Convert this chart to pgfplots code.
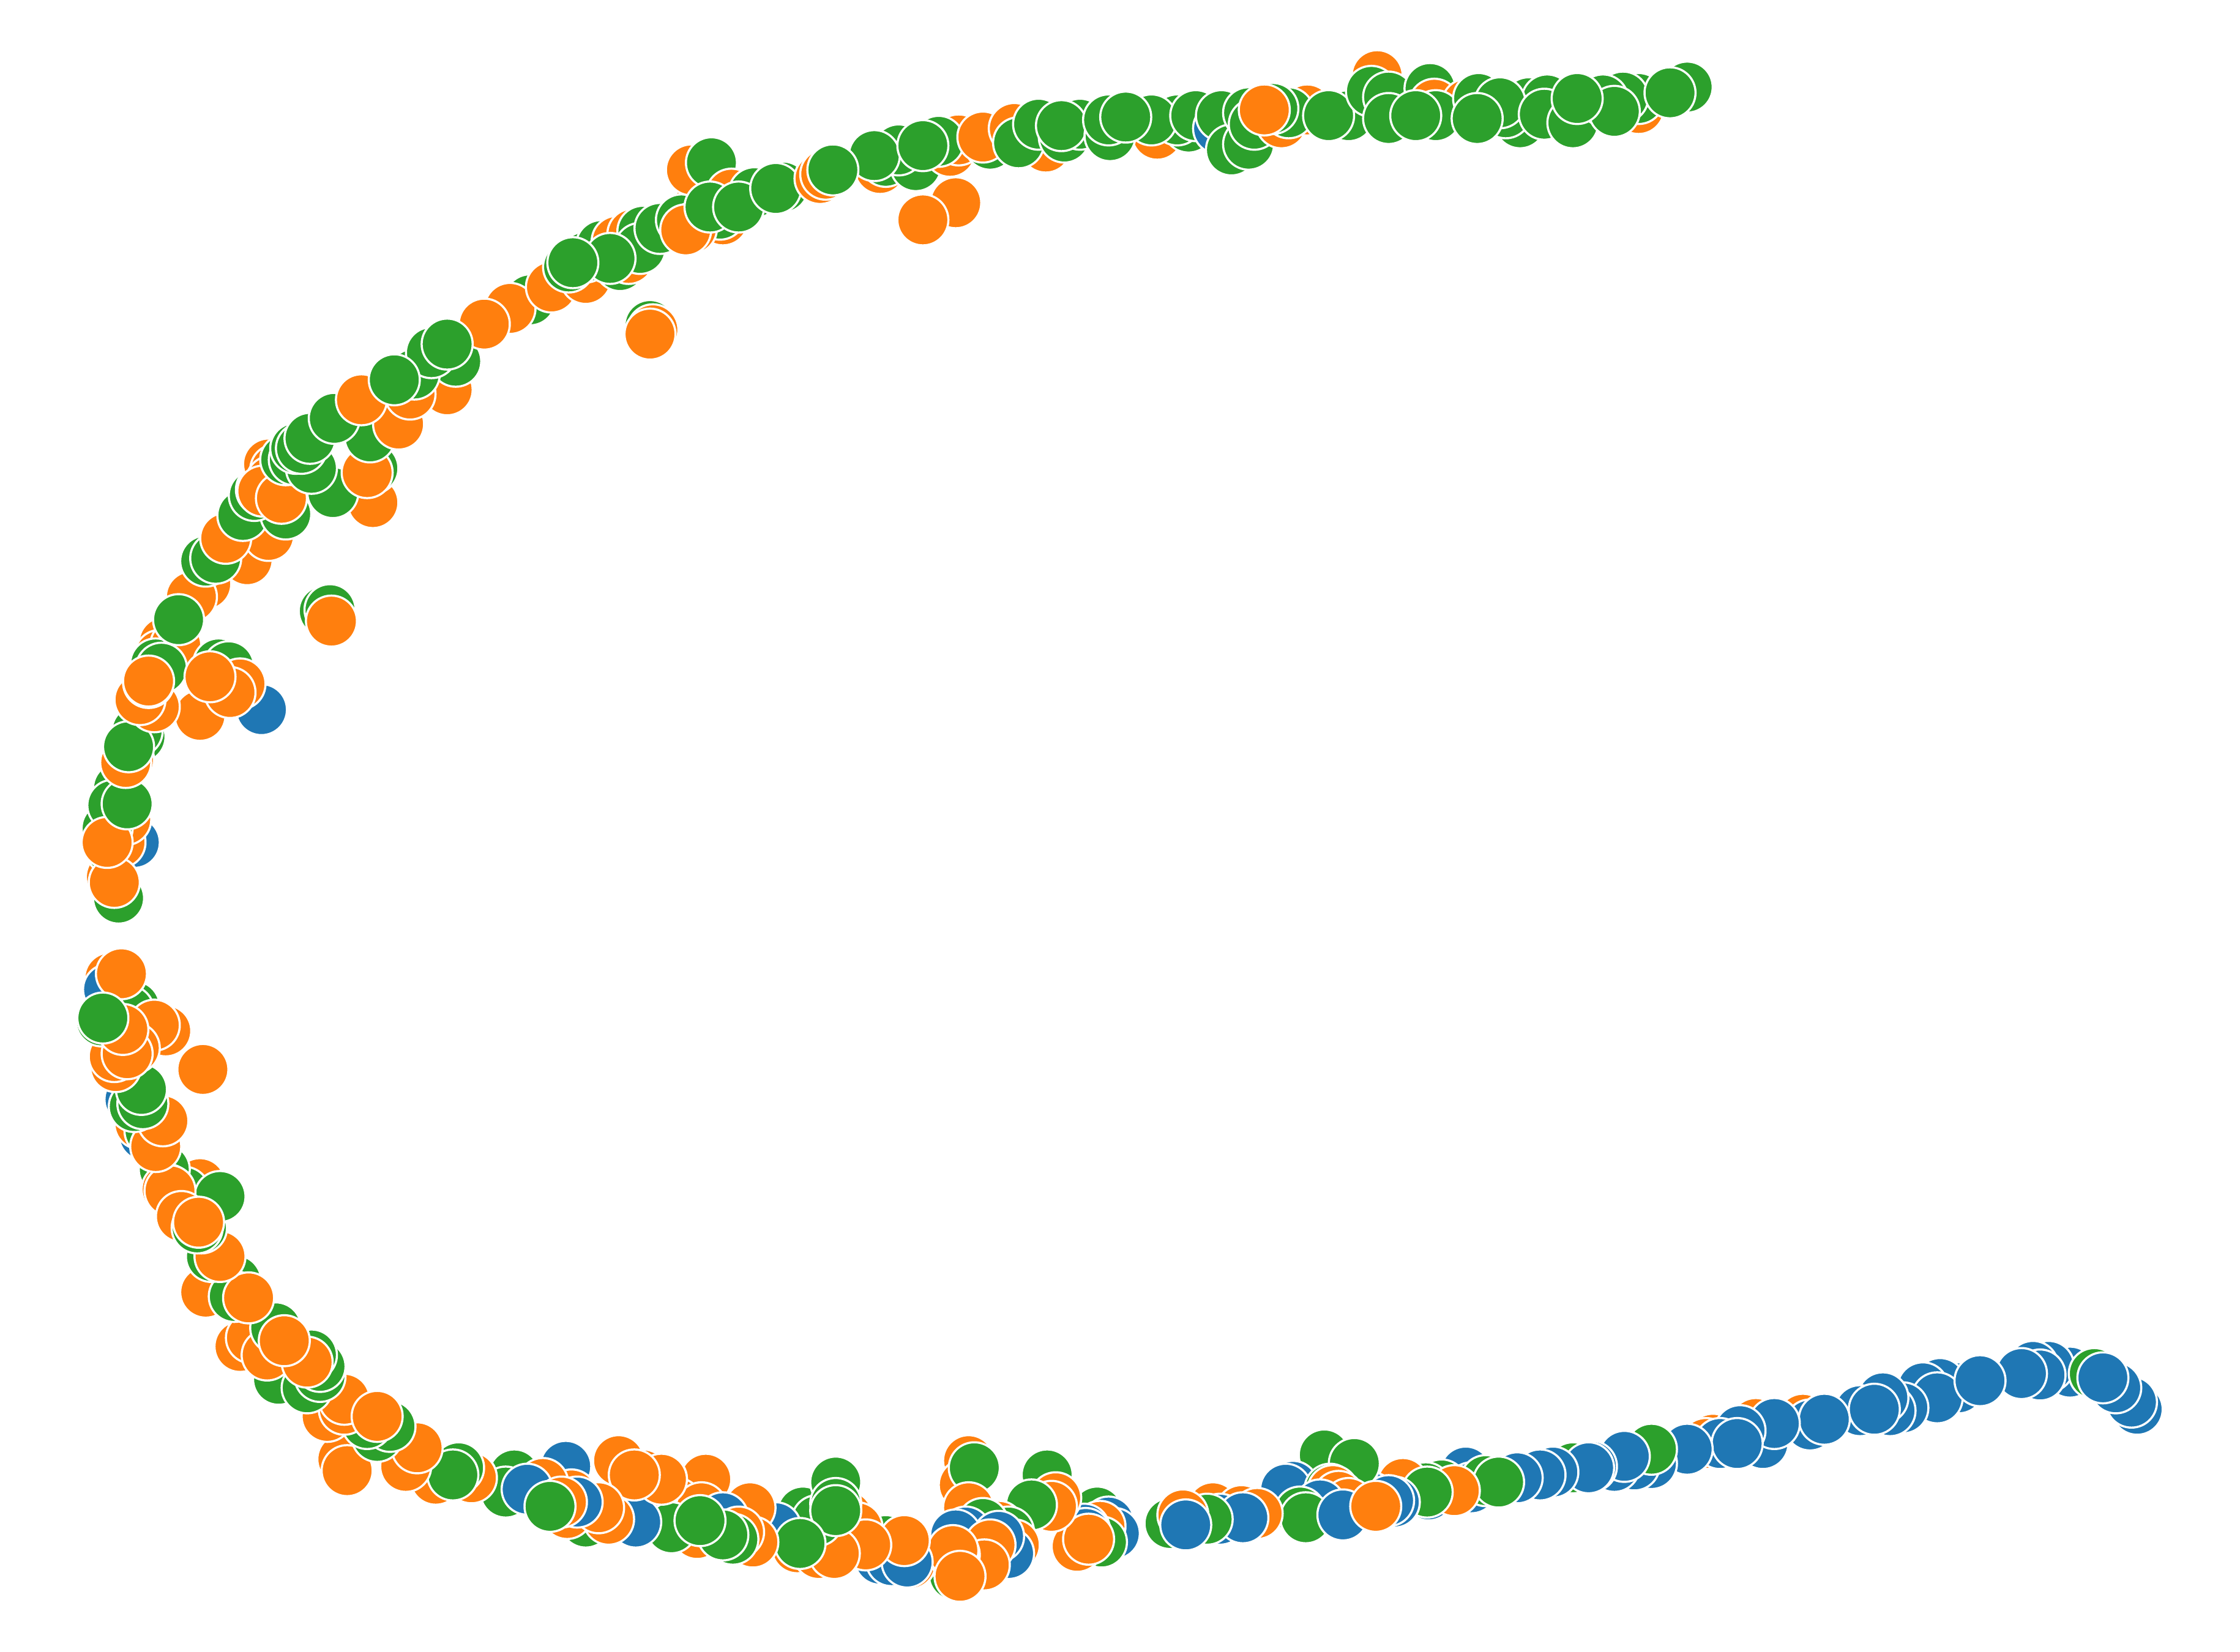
\documentclass[border=0pt]{standalone}
\usepackage{pgfplots}
\pgfplotsset{compat=1.18}
\definecolor{tabblue}{HTML}{1F77B4}
\definecolor{taborange}{HTML}{FF7F0E}
\definecolor{tabgreen}{HTML}{2CA02C}
\begin{document}
\begin{tikzpicture}
\useasboundingbox (0,0) rectangle (15.68cm,11.567cm);
\begin{axis}[
    at={(0,0)}, anchor=south west,
    scale only axis, width=15.68cm, height=11.567cm,
    xmin=0, xmax=1568, ymin=0, ymax=1157, y dir=reverse,
    hide axis, clip=false,
    scatter, only marks, scatter src=explicit symbolic,
    scatter/classes={
        b={mark=*, mark size=5.08pt, fill=tabblue, draw=white, line width=0.42pt},
        o={mark=*, mark size=5.08pt, fill=taborange, draw=white, line width=0.42pt},
        g={mark=*, mark size=5.08pt, fill=tabgreen, draw=white, line width=0.42pt}
    }
]
\addplot table[meta=c] {
x y c
1496 987 b
1492 982 b
1481 972 b
1449 961 b
1434 957 b
1423 957 b
1428 963 b
1466 962 g
1472 965 b
1415 962 b
1371 972 b
1358 969 b
1346 972 b
1356 979 b
1386 967 b
1332 986 b
1323 988 b
1318 979 b
1302 988 b
1312 987 b
1262 994 o
1267 998 b
1277 994 b
1229 997 o
1199 1008 o
1194 1011 o
1234 1011 b
1242 997 b
1218 1002 b
1204 1011 b
1216 1011 b
1181 1015 b
1156 1025 b
1144 1026 b
1130 1027 b
1156 1015 g
1137 1020 b
1101 1028 g
1114 1027 b
1112 1028 b
1087 1031 b
1078 1033 b
1026 1031 b
1030 1042 b
1062 1035 b
1040 1037 g
1049 1038 g
1009 1040 g
998 1042 g
982 1039 o
1000 1047 b
1018 1044 o
999 1045 g
960 1049 b
976 1052 b
972 1051 b
927 1019 g
948 1025 g
905 1041 b
900 1043 b
931 1043 g
933 1044 o
936 1050 b
937 1048 o
944 1053 o
924 1054 b
910 1059 g
914 1063 g
940 1061 b
963 1055 o
849 1056 o
869 1058 o
854 1064 b
880 1060 o
870 1063 b
819 1067 g
845 1064 g
828 1061 o
830 1068 b
768 1059 g
776 1066 b
780 1074 b
770 1069 o
771 1080 g
759 1071 b
760 1074 b
754 1083 o
762 1078 o
733 1033 g
739 1049 o
736 1055 o
722 1054 g
699 1069 o
706 1073 g
710 1082 o
706 1088 b
678 1023 o
675 1040 o
682 1028 g
678 1056 o
688 1067 g
676 1073 b
699 1076 b
668 1103 g
637 1095 o
669 1075 b
693 1082 o
689 1096 o
668 1089 o
667 1086 o
672 1104 o
620 1079 g
616 1092 b
624 1093 b
635 1094 b
633 1079 o
593 1062 o
600 1070 o
606 1082 o
558 1084 o
573 1088 o
584 1088 o
562 1059 g
585 1038 g
572 1065 g
585 1053 g
585 1058 g
543 1070 b
560 1081 g
525 1056 o
494 1036 o
463 1036 o
450 1033 o
474 1053 o
491 1056 o
527 1080 o
506 1063 b
517 1073 o
513 1078 g
488 1074 o
506 1075 g
450 1065 b
470 1070 g
490 1065 g
445 1066 b
433 1023 o
463 1036 o
444 1033 o
410 1066 g
397 1060 o
426 1064 o
419 1056 o
396 1027 b
360 1033 g
354 1045 g
400 1047 o
380 1039 o
369 1043 b
404 1052 b
393 1052 o
385 1055 g
305 1036 o
330 1035 o
321 1028 g
317 1033 g
284 1027 o
292 1014 o
240 1022 o
243 1030 o
264 1006 g
273 999 g
257 997 g
229 992 o
241 987 o
241 980 o
264 992 o
195 966 g
215 972 g
224 964 g
224 957 g
218 949 g
168 943 o
176 937 o
187 949 o
193 930 g
215 954 o
199 939 o
165 897 g
144 905 o
164 908 g
174 909 o
148 880 g
154 880 o
141 860 g
140 829 o
129 835 g
154 838 g
115 819 g
117 833 o
119 834 o
127 852 o
138 860 g
139 856 o
101 795 b
98 787 o
105 792 g
109 803 o
114 785 o
91 770 b
94 775 g
100 773 g
99 763 g
142 749 o
77 685 o
76 693 b
94 705 g
90 708 g
116 722 o
108 718 o
85 682 o
81 747 o
80 740 o
94 734 o
89 738 o
71 715 g
86 721 o
72 713 g
83 629 g
78 614 o
77 594 g
83 594 g
94 590 b
84 590 o
88 574 o
80 618 o
75 580 g
83 552 g
79 564 g
75 590 o
89 563 g
98 516 g
96 512 g
90 532 o
88 534 o
90 523 g
140 501 o
108 495 o
98 490 o
104 478 o
115 450 o
112 459 o
123 452 o
109 465 g
113 468 g
104 477 o
183 497 b
153 465 g
160 467 g
168 479 o
161 485 o
147 474 o
144 409 o
134 418 o
125 434 g
227 428 g
231 427 g
232 435 o
173 392 o
188 375 o
144 393 g
151 391 g
158 377 o
170 361 g
200 360 g
178 347 g
183 343 o
188 325 o
193 329 o
190 337 o
184 344 o
197 349 o
261 352 o
233 345 g
200 322 g
206 322 g
218 328 g
207 314 g
211 314 g
217 307 g
261 328 g
257 331 o
259 306 g
234 293 g
313 273 o
279 297 o
287 276 o
253 280 o
319 253 g
290 262 g
302 247 g
276 266 g
371 210 g
357 216 o
339 227 o
313 241 g
386 201 o
410 195 o
398 187 g
410 180 g
421 172 g
432 169 o
443 164 o
450 162 g
434 186 g
440 181 o
448 174 g
427 181 g
401 184 g
462 160 g
455 228 g
457 231 o
455 234 o
489 144 o
477 154 g
506 154 o
504 150 g
484 160 o
480 161 o
484 119 o
498 114 g
512 136 o
497 145 g
528 135 g
517 145 g
548 131 g
543 132 g
574 125 o
578 122 o
616 118 o
620 113 g
641 116 g
629 105 g
665 106 o
671 98 o
657 99 g
612 109 g
646 102 g
583 119 g
669 142 o
646 154 o
693 101 g
688 96 o
732 103 o
710 90 o
713 100 g
727 87 g
745 96 g
756 87 g
743 88 g
810 94 o
777 95 g
776 84 g
832 89 g
824 84 g
806 84 g
788 82 g
837 81 g
853 90 b
855 81 g
862 105 g
874 101 g
874 79 g
878 87 g
897 86 o
915 77 o
902 79 g
891 76 g
885 77 o
944 81 g
930 81 g
964 53 o
960 64 g
972 68 g
1001 62 g
1004 73 o
1027 73 o
972 83 g
1005 81 g
991 81 g
1035 69 g
1070 72 g
1083 70 g
1064 86 g
1054 79 g
1050 72 g
1034 83 g
1081 80 g
1101 86 g
1147 76 o
1147 69 g
1136 68 g
1122 70 g
1130 78 g
1104 69 g
1181 61 g
1169 65 g
};
\end{axis}
\end{tikzpicture}
\end{document}
